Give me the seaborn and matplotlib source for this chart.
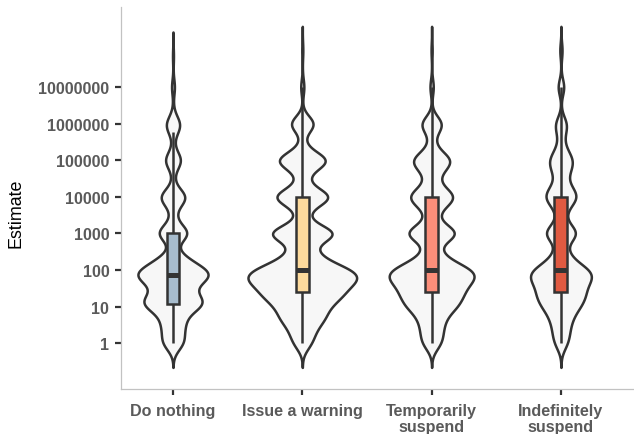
import numpy as np
import pandas as pd
import matplotlib
matplotlib.use("Agg")
import matplotlib.pyplot as plt
import seaborn as sns
from matplotlib.ticker import FixedLocator, FixedFormatter, NullLocator

# Response categories and their display labels
actions = ["Do nothing", "Issue a warning", "Temporarily suspend", "Indefinitely suspend"]
action_labels = ["Do nothing", "Issue a warning", "Temporarily\nsuspend", "Indefinitely\nsuspend"]
box_colors = ["#a7bccd", "#fdda9c", "#fc8e7a", "#e05a41"]

# Distinct estimate values given by respondents
estimate_values = [1, 2, 3, 5, 10, 12, 15, 20, 25, 30, 50, 75, 100, 150, 200, 300,
                   500, 1000, 2000, 5000, 10000, 20000, 50000, 100000, 200000,
                   500000, 600000, 1000000, 2000000, 10000000, 70000000, 100000000]

# Number of respondents giving each value, per action
do_nothing_counts = [16, 10, 8, 14, 22, 14, 12, 12, 8, 6, 28, 24, 26, 8, 14, 2,
                     2, 26, 5, 5, 22, 2, 2, 14, 2,
                     0, 4, 11, 1, 3, 1, 0]
warning_counts = [12, 12, 8, 26, 26, 0, 12, 20, 20, 12, 54, 16, 44, 8, 16, 8,
                  10, 50, 8, 10, 42, 8, 10, 38, 6,
                  2, 0, 20, 0, 3, 0, 1]
temporary_counts = [12, 10, 6, 14, 26, 0, 8, 14, 16, 8, 38, 12, 36, 6, 12, 4,
                    6, 36, 8, 12, 30, 10, 12, 26, 6,
                    4, 0, 16, 0, 3, 0, 1]
indefinite_counts = [8, 8, 4, 12, 18, 0, 8, 10, 12, 6, 26, 10, 24, 4, 8, 4,
                     4, 22, 6, 8, 20, 10, 10, 14, 6,
                     4, 0, 8, 0, 5, 0, 2]

y_tick_values = [1, 10, 100, 1000, 10000, 100000, 1000000, 10000000]
y_tick_labels = ["1", "10", "100", "1000", "10000", "100000", "1000000", "10000000"]

counts_by_action = [do_nothing_counts, warning_counts, temporary_counts, indefinite_counts]
frames = []
for action, counts in zip(actions, counts_by_action):
    frames.append(pd.DataFrame({
        "action": action,
        "estimate": np.repeat(estimate_values, counts).astype(float),
    }))
df = pd.DataFrame(pd.concat(frames, ignore_index=True))
df["action"] = pd.Categorical(df["action"], categories=actions, ordered=True)

KDE_BANDWIDTH = 0.22  # in log10 units


def fixed_bandwidth(kde):
    return KDE_BANDWIDTH / np.std(kde.dataset, ddof=1)


plt.rcParams["font.family"] = ["Liberation Sans", "DejaVu Sans"]

fig, ax = plt.subplots(figsize=(6.34, 4.35), dpi=100)
ax.set_position([121 / 634, 45 / 435, (634 - 121) / 634, (390 - 8.3) / 435])

edge = "#333333"
sns.violinplot(data=df, x="action", y="estimate", order=actions, log_scale=True,
               inner=None, cut=3, density_norm="count", width=0.84, gridsize=500,
               bw_method=fixed_bandwidth, color="#f7f7f7", saturation=1,
               linewidth=1.8, linecolor=edge, ax=ax)

sns.boxplot(data=df, x="action", y="estimate", hue="action", order=actions,
            hue_order=actions, palette=box_colors, saturation=1, legend=False,
            log_scale=True, width=0.1, showfliers=False, showcaps=False,
            linewidth=1.8, linecolor=edge,
            medianprops={"linewidth": 3.6, "color": edge},
            ax=ax)

ax.set_ylim(10 ** -1.25, 10 ** 9.18)
ax.set_xlim(-0.402, 3.565)

ax.yaxis.set_major_locator(FixedLocator(y_tick_values))
ax.yaxis.set_major_formatter(FixedFormatter(y_tick_labels))
ax.yaxis.set_minor_locator(NullLocator())
ax.set_xticks(range(len(actions)))
ax.set_xticklabels(action_labels, linespacing=1.12)

label_color = "#5a5a5a"
ax.tick_params(axis="y", length=4.3, width=1.6, color=edge, pad=4.1,
               labelsize=11.6, labelcolor=label_color)
ax.tick_params(axis="x", length=4.3, width=1.6, color=edge, pad=5.8,
               labelsize=11.6, labelcolor=label_color)
for lbl in ax.get_xticklabels() + ax.get_yticklabels():
    lbl.set_fontweight("bold")

for side in ["top", "right"]:
    ax.spines[side].set_visible(False)
for side in ["left", "bottom"]:
    ax.spines[side].set_color("#c2c2c2")
    ax.spines[side].set_linewidth(0.9)

ax.set_xlabel("")
ax.set_ylabel("Estimate", fontsize=12.9, color="black", va="center")
ax.yaxis.set_label_coords((15.5 - 121) / 513, (390 - 213.5) / 381.7)

fig.savefig("out.png", dpi=100)
